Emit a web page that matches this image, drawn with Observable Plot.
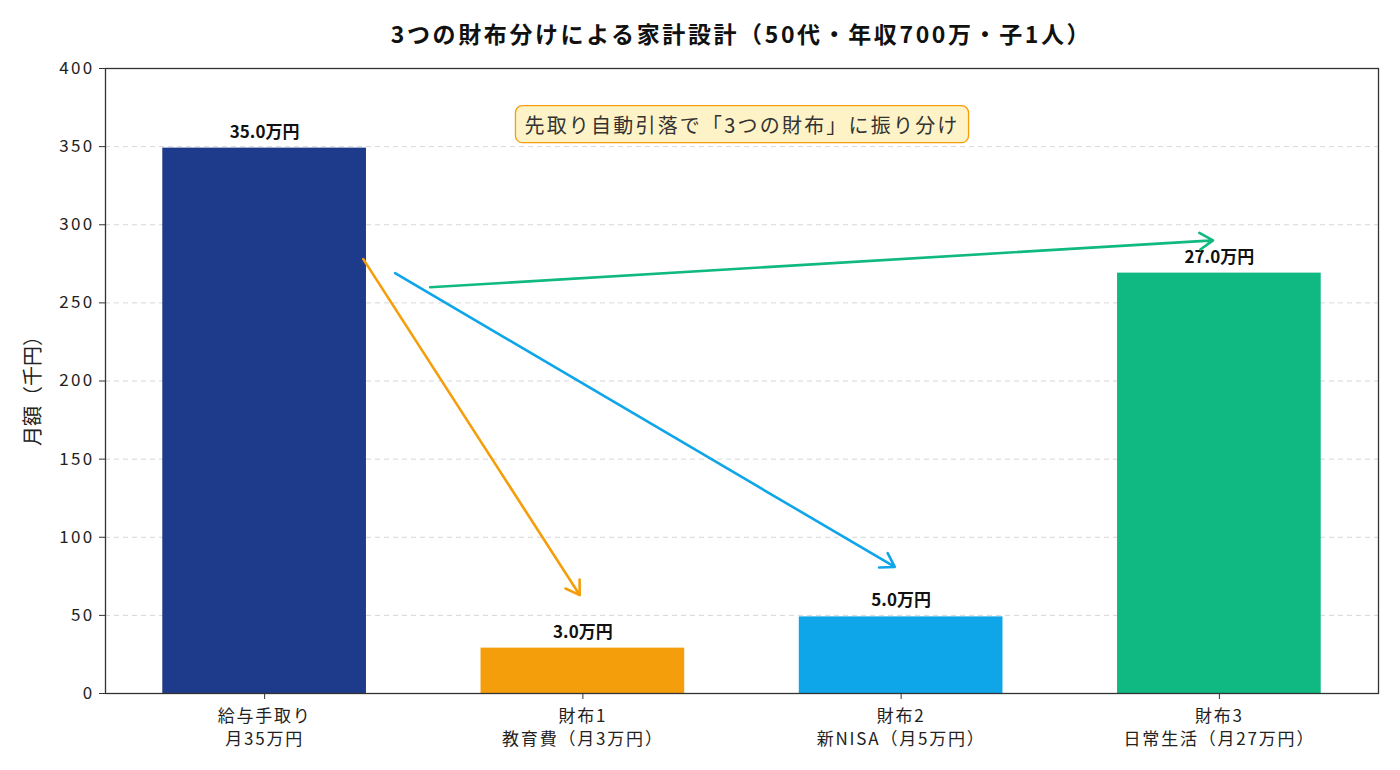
<!DOCTYPE html>
<html>
<head>
<meta charset="utf-8">
<script src="https://cdn.jsdelivr.net/npm/d3@7"></script>
<script src="https://cdn.jsdelivr.net/npm/@observablehq/plot@0.6"></script>
<style>
  html, body { margin: 0; padding: 0; background: #fff; }
  body { width: 1400px; height: 770px; overflow: hidden; font-family: "Noto Sans CJK JP", "Noto Sans", sans-serif; }
  #title { height: 50px; box-sizing: border-box; padding: 20px 22px 0 105px; line-height: 26px;
           text-align: center; font-size: 23px; letter-spacing: 2.6px; font-weight: bold; color: #111; }
  #chart svg g[aria-label="y-axis tick label"] { font-size: 17px; letter-spacing: 2.3px; fill: #222; }
  #chart svg g[aria-label="x-axis tick label"] { font-size: 17px; letter-spacing: 1.8px; fill: #222; }
</style>
</head>
<body>
<div id="title">3つの財布分けによる家計設計（50代・年収700万・子1人）</div>
<div id="chart"></div>
<script>
// Monthly amounts, in thousands of yen
const categories = ["給与手取り\n月35万円", "財布1\n教育費（月3万円）", "財布2\n新NISA（月5万円）", "財布3\n日常生活（月27万円）"];
const amounts = [350, 30, 50, 270];
const colors = ["#1e3a8a", "#f59e0b", "#0ea5e9", "#10b981"];
const yTicks = [0, 50, 100, 150, 200, 250, 300, 350, 400];

// Flow arrows from take-home pay to each wallet (x in bar index units, y in 千円)
const arrowX1 = [0.31, 0.41, 0.52];
const arrowY1 = [278, 269, 260];
const arrowX2 = [0.99, 1.98, 2.98];
const arrowY2 = [63, 81, 290];
const arrowColors = ["#f59e0b", "#0ea5e9", "#10b981"];

const calloutText = "先取り自動引落で「3つの財布」に振り分け";
const calloutPos = {x: 1.5, y: 363};

const barHalf = 0.32;
const bars = amounts.map((v, i) => ({i, v, color: colors[i], label: (v / 10).toFixed(1) + "万円"}));
const arrows = arrowX1.map((x, k) => ({x1: x, y1: arrowY1[k], x2: arrowX2[k], y2: arrowY2[k], color: arrowColors[k]}));

const plot = Plot.plot({
  width: 1400,
  height: 720,
  marginLeft: 105,
  marginRight: 22,
  marginTop: 18,
  marginBottom: 77,
  style: {fontFamily: "'Noto Sans CJK JP', 'Noto Sans', sans-serif", fontSize: "16px", color: "#222", background: "#fff"},
  x: {domain: [-0.5, 3.5]},
  y: {domain: [0, 400]},
  marks: [
    Plot.gridY(yTicks.slice(1, -1), {stroke: "#bbb", strokeOpacity: 0.6, strokeDasharray: "5,4", strokeWidth: 1}),
    Plot.rectY(bars, {x1: d => d.i - barHalf, x2: d => d.i + barHalf, y1: 0, y2: "v", fill: "color", insetTop: 1.5}),
    Plot.text(bars, {x: "i", y: "v", text: "label", lineAnchor: "bottom", dy: -9, fontSize: 17, fontWeight: "bold", fill: "#111"}),
    Plot.arrow(arrows, {x1: "x1", y1: "y1", x2: "x2", y2: "y2", stroke: "color", strokeWidth: 2.6, headLength: 9, headAngle: 65}),
    Plot.text([calloutPos], {x: "x", y: "y", text: () => calloutText, fontSize: 20, fill: "#333"}),
    Plot.axisY({ticks: yTicks, tickSize: 6, tickPadding: 5, label: null, stroke: "#333"}),
    Plot.axisX({ticks: [0, 1, 2, 3], tickFormat: i => categories[i], tickSize: 6, tickPadding: 6, label: null, lineHeight: 1.35, stroke: "#333"}),
    Plot.text(["月額（千円）"], {frameAnchor: "left", textAnchor: "middle", dx: -72, dy: 5, rotate: -90, fontSize: 20, fill: "#222"}),
    Plot.frame({stroke: "#333", strokeWidth: 1.3})
  ]
});

document.getElementById("chart").appendChild(plot);

// Rounded highlight box behind the callout text
const calloutT = Array.from(plot.querySelectorAll("text")).find(t => t.textContent === calloutText);
if (calloutT) {
  calloutT.style.letterSpacing = "2.2px";
  const b = calloutT.getBBox();
  const padX = 9, padY = 4;
  const rect = document.createElementNS("http://www.w3.org/2000/svg", "rect");
  rect.setAttribute("x", b.x - padX);
  rect.setAttribute("y", b.y - padY);
  rect.setAttribute("width", b.width + 2 * padX);
  rect.setAttribute("height", b.height + 2 * padY);
  rect.setAttribute("rx", 7);
  rect.setAttribute("fill", "#fef3c7");
  rect.setAttribute("stroke", "#f59e0b");
  rect.setAttribute("stroke-width", 1.3);
  const tr = calloutT.getAttribute("transform");
  if (tr) rect.setAttribute("transform", tr);
  calloutT.parentNode.insertBefore(rect, calloutT);
}
</script>
</body>
</html>
